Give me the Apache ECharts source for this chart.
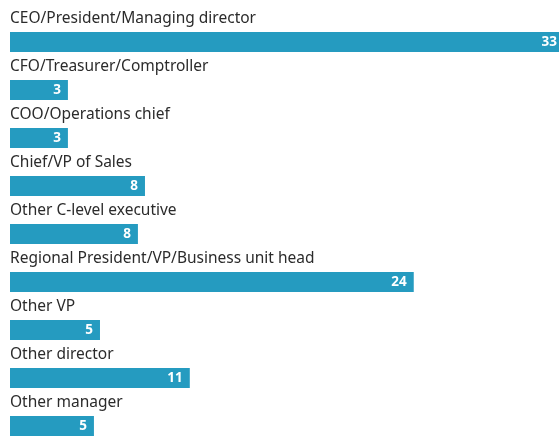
<!DOCTYPE html>
<html>
<head>
<meta charset="utf-8">
<script src="https://cdn.jsdelivr.net/npm/echarts@6/dist/echarts.min.js"></script>
<style>
  html, body { margin: 0; padding: 0; background: #fff; }
  #main { width: 559px; height: 436px; }
</style>
</head>
<body>
<div id="main"></div>
<script>
// roles, top to bottom
const roles = [
  'CEO/President/Managing director',
  'CFO/Treasurer/Comptroller',
  'COO/Operations chief',
  'Chief/VP of Sales',
  'Other C-level executive',
  'Regional President/VP/Business unit head',
  'Other VP',
  'Other director',
  'Other manager'
];
// share in % (labels are rounded)
const shares = [33, 3.45, 3.45, 8.04, 7.62, 24.05, 5.36, 10.71, 5.0];

const myChart = echarts.init(document.getElementById('main'));

const option = {
  animation: false,
  grid: {
    left: 10,
    top: 18,
    width: 554,
    height: 432,
    outerBoundsMode: 'none',
    containLabel: false
  },
  xAxis: {
    type: 'value',
    min: 0,
    max: 33,
    show: false
  },
  yAxis: {
    type: 'category',
    data: roles,
    inverse: true,
    show: false
  },
  series: [
    {
      // carries the role name above each bar
      type: 'bar',
      data: shares,
      barWidth: 20,
      barGap: '-100%',
      silent: true,
      itemStyle: { color: 'rgba(0,0,0,0)' },
      label: {
        show: true,
        position: [0, -21],
        align: 'left',
        verticalAlign: 'top',
        color: '#2b2b2b',
        fontFamily: 'Noto Sans',
        fontSize: 15.5,
        formatter: p => p.name
      }
    },
    {
      type: 'bar',
      data: shares,
      barWidth: 20,
      barGap: '-100%',
      itemStyle: { color: '#259bc0' },
      label: {
        show: true,
        position: 'insideRight',
        distance: 7,
        color: '#fff',
        fontWeight: 'bold',
        fontFamily: 'Noto Sans',
        fontSize: 13.5,
        formatter: p => Math.round(p.value)
      }
    }
  ]
};

myChart.setOption(option);
</script>
</body>
</html>
